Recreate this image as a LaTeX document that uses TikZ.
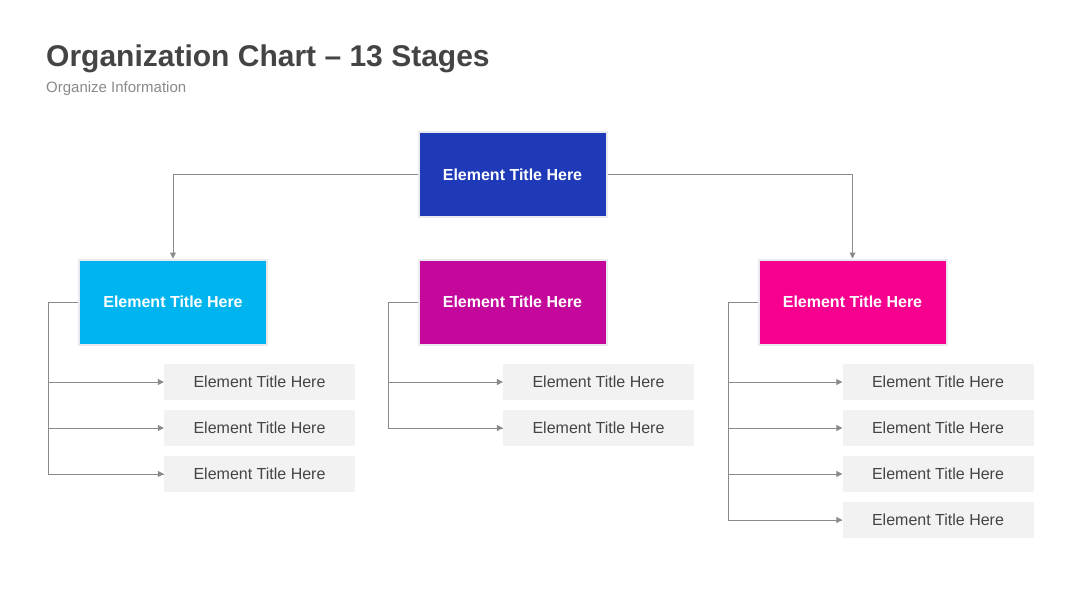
\documentclass[tikz,border=0pt]{standalone}
\usepackage{fontspec}
\setmainfont{Liberation Sans}
\usetikzlibrary{arrows.meta}
\definecolor{topblue}{HTML}{1F3AB8}
\definecolor{skyblue}{HTML}{00B5EF}
\definecolor{plum}{HTML}{C5089C}
\definecolor{hotpink}{HTML}{F8008F}
\definecolor{paper}{HTML}{F2F2F2}
\definecolor{rim}{HTML}{E9EAF0}
\definecolor{wire}{HTML}{8A8A8A}
\definecolor{ink}{HTML}{444444}
\tikzset{
  head/.style={draw=rim, fill=#1, line width=2pt, minimum width=188pt, minimum height=85pt, text=white, font=\fontsize{16}{18}\selectfont\bfseries},
  leaf/.style={fill=paper, minimum width=191pt, minimum height=36pt, text=ink, font=\fontsize{16}{18}\selectfont},
  wireline/.style={draw=wire, line width=1pt},
  wirearrow/.style={wireline, -{Triangle[length=6pt,width=6pt]}}
}

\begin{document}
\begin{tikzpicture}[x=1pt, y=-1pt]
\useasboundingbox[fill=white] (0,0) rectangle (1080,608);
% title
\node[anchor=base west, inner sep=0, text=ink, font=\fontsize{30}{33}\selectfont\bfseries] (title) at (46,66) {Organization Chart -- 13 Stages};
\node[anchor=base west, inner sep=0, text=wire, font=\fontsize{15}{17}\selectfont] (subtitle) at (46,92) {Organize Information};
% heads
\node[head=topblue] (top) at (512.5,174.5) {Element Title Here};
\node[head=skyblue] (h1) at (173,302) {Element Title Here};
\node[head=plum] (h2) at (512.5,302) {Element Title Here};
\node[head=hotpink] (h3) at (852.5,302) {Element Title Here};
\draw[wirearrow] (top.west) -| (h1.north);
\draw[wirearrow] (top.east) -| (h3.north);
% column 1
\foreach \i/\y in {1/382,2/428,3/474}
  \node[leaf] (a\i) at (259.5,\y) {Element Title Here};
\coordinate (ta) at (48,302);
\draw[wireline] (h1.west) -- (ta) |- (a3.west);
\foreach \i in {1,2,3}
  \draw[wirearrow] (ta |- a\i.west) -- (a\i.west);
% column 2
\foreach \i/\y in {1/382,2/428}
  \node[leaf] (b\i) at (598.5,\y) {Element Title Here};
\coordinate (tb) at (388,302);
\draw[wireline] (h2.west) -- (tb) |- (b2.west);
\foreach \i in {1,2}
  \draw[wirearrow] (tb |- b\i.west) -- (b\i.west);
% column 3
\foreach \i/\y in {1/382,2/428,3/474,4/520}
  \node[leaf] (c\i) at (938,\y) {Element Title Here};
\coordinate (tc) at (728,302);
\draw[wireline] (h3.west) -- (tc) |- (c4.west);
\foreach \i in {1,2,3,4}
  \draw[wirearrow] (tc |- c\i.west) -- (c\i.west);
\end{tikzpicture}
\end{document}
